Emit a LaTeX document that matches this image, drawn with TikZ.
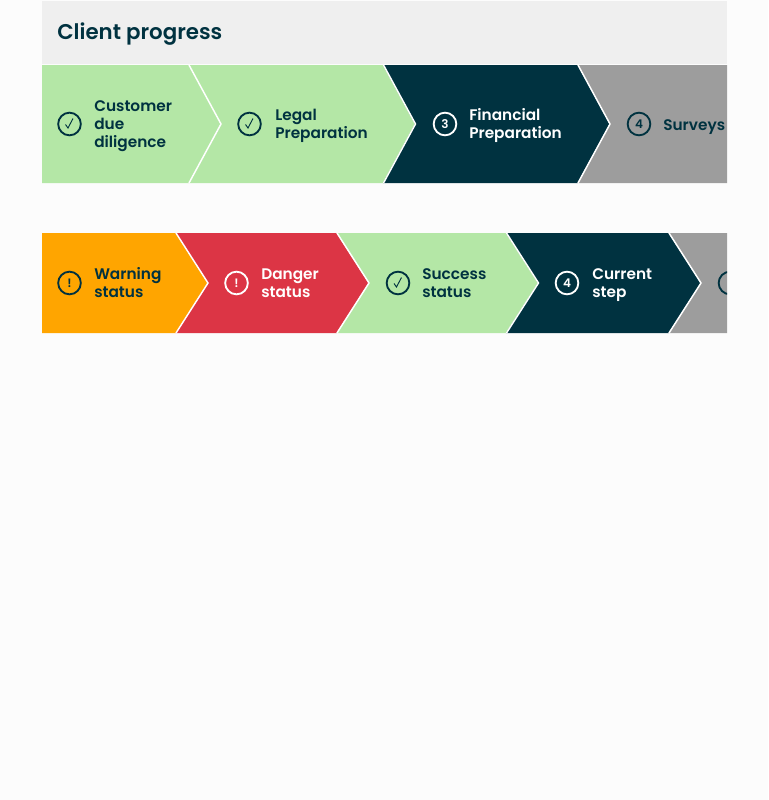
\documentclass[tikz,border=0pt]{standalone}
\usepackage{fontspec}
\setmainfont{Poppins SemiBold}
\definecolor{pagebg}{HTML}{FCFCFC}
\definecolor{headbg}{HTML}{EFEFEF}
\definecolor{navy}{HTML}{003240}
\definecolor{okgreen}{HTML}{B4E7A6}
\definecolor{todogray}{HTML}{9D9D9D}
\definecolor{warnorange}{HTML}{FFA500}
\definecolor{dangerred}{HTML}{DC3545}
\tikzset{
  sepline/.style={draw=white, line width=1.1pt, line join=miter},
  steptext/.style={anchor=west, align=left, font=\fontsize{11.5}{13.5}\selectfont, inner sep=0pt, text=navy},
  icon/.style={circle, draw=navy, line width=1.4pt, minimum size=17pt, inner sep=0pt, text=navy, font=\fontsize{9}{9}\selectfont},
  tick/.style={draw=navy, line width=0.7pt}
}
\begin{document}
\begin{tikzpicture}[x=0.75pt, y=-0.75pt]
  \useasboundingbox[fill=pagebg] (0,0) rectangle (768,800);
  \fill[headbg] (42,1) rectangle (727,64);
  \node[anchor=west, inner sep=0pt, text=navy, font=\fontsize{16}{20}\selectfont] (title) at (57,34) {Client progress};

  % first row
  \fill[okgreen] (42,65) -- (188.5,65) -- (220.5,124) -- (188.5,183) -- (42,183) -- cycle;
  \fill[okgreen] (188.5,65) -- (383,65) -- (415,124) -- (383,183) -- (188.5,183) -- (220.5,124) -- cycle;
  \fill[navy] (383,65) -- (577.5,65) -- (609.5,124) -- (577.5,183) -- (383,183) -- (415,124) -- cycle;
  \fill[todogray] (577.5,65) -- (727,65) -- (727,183) -- (577.5,183) -- (609.5,124) -- cycle;
  \draw[sepline] (189,65) -- (221,124) -- (189,183);
  \draw[sepline] (383.5,65) -- (415.5,124) -- (383.5,183);
  \draw[sepline] (578,65) -- (610,124) -- (578,183);
  \node[icon] (i1) at (69.5,124) {};
  \draw[tick] (65.5,124.5) -- (68,128) -- (73,118.5);
  \node[steptext] (s1) at (94,126.5) {Customer\\due\\diligence};
  \node[icon] (i2) at (249.5,124) {};
  \draw[tick] (245.5,124.5) -- (248,128) -- (253,118.5);
  \node[steptext] (s2) at (275,126) {Legal\\Preparation};
  \node[icon, draw=white, text=white] (i3) at (445,124) {3};
  \node[steptext, text=white] (s3) at (469,126) {Financial\\Preparation};
  \node[icon] (i4) at (639,124) {4};
  \node[steptext] (s4) at (663,127) {Surveys};

  % second row
  \fill[warnorange] (42,233) -- (175.5,233) -- (207.5,283) -- (175.5,333) -- (42,333) -- cycle;
  \fill[dangerred] (175.5,233) -- (336.5,233) -- (368.5,283) -- (336.5,333) -- (175.5,333) -- (207.5,283) -- cycle;
  \fill[okgreen] (336.5,233) -- (506,233) -- (538,283) -- (506,333) -- (336.5,333) -- (368.5,283) -- cycle;
  \fill[navy] (506,233) -- (668.5,233) -- (700.5,283) -- (668.5,333) -- (506,333) -- (538,283) -- cycle;
  \fill[todogray] (668.5,233) -- (727,233) -- (727,333) -- (668.5,333) -- (700.5,283) -- cycle;
  \draw[sepline] (176,233) -- (208,283) -- (176,333);
  \draw[sepline] (337,233) -- (369,283) -- (337,333);
  \draw[sepline] (506.5,233) -- (538.5,283) -- (506.5,333);
  \draw[sepline] (669,233) -- (701,283) -- (669,333);
  \begin{scope}
    \clip (42,233) rectangle (727,333);
    \node[icon] (i9) at (730,283) {};
  \end{scope}
  \node[icon] (i5) at (69.5,283) {!};
  \node[steptext] (s5) at (94,283) {Warning\\status};
  \node[icon, draw=white, text=white] (i6) at (236.5,283) {!};
  \node[steptext, text=white] (s6) at (261,283) {Danger\\status};
  \node[icon] (i7) at (398,283) {};
  \draw[tick] (394,283.5) -- (396.5,287) -- (401.5,277.5);
  \node[steptext] (s7) at (422,283) {Success\\status};
  \node[icon, draw=white, text=white] (i8) at (567,283) {4};
  \node[steptext, text=white] (s8) at (592,285) {Current\\step};
\end{tikzpicture}
\end{document}
